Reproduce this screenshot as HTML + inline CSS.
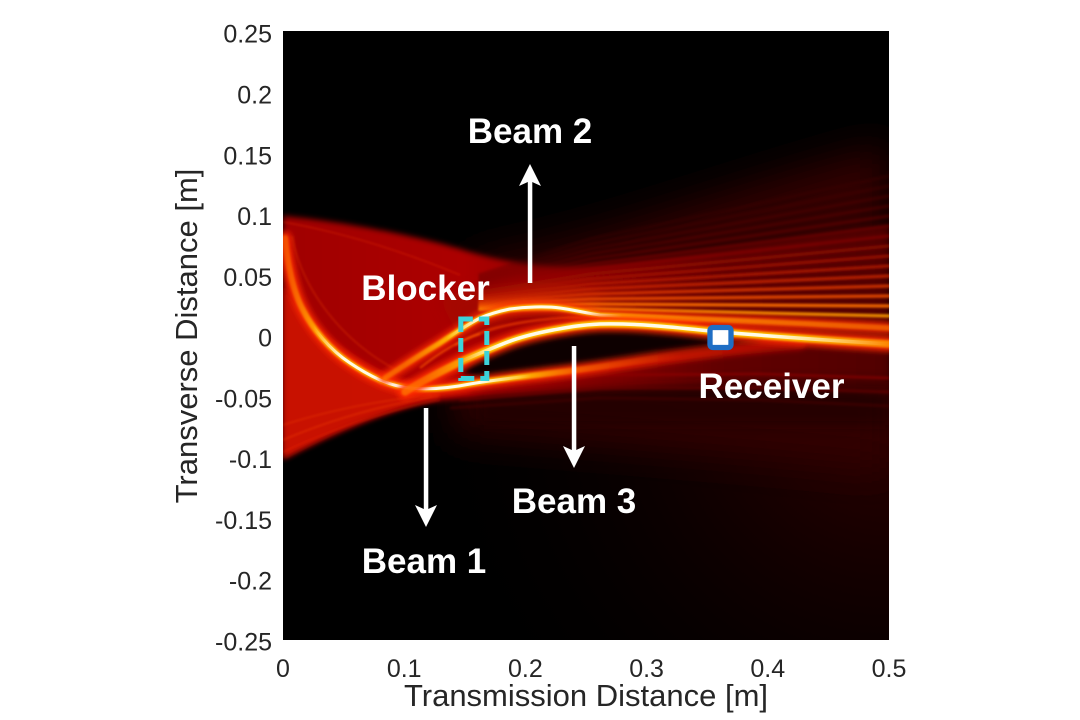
<!DOCTYPE html>
<html><head><meta charset="utf-8"><style>
html,body{margin:0;padding:0;background:#fff;}
svg{display:block;}
text{font-family:"Liberation Sans",Arial,sans-serif;}
</style></head><body>
<svg width="1080" height="720" viewBox="0 0 1080 720" xmlns="http://www.w3.org/2000/svg">
<defs>
<clipPath id="pc"><rect x="283" y="31" width="606" height="609"/></clipPath>
<filter id="bl1" filterUnits="userSpaceOnUse" x="0" y="0" width="1080" height="720"><feGaussianBlur stdDeviation="1"/></filter>
<filter id="bl2" filterUnits="userSpaceOnUse" x="0" y="0" width="1080" height="720"><feGaussianBlur stdDeviation="2"/></filter>
<filter id="bl3" filterUnits="userSpaceOnUse" x="0" y="0" width="1080" height="720"><feGaussianBlur stdDeviation="3"/></filter>
<filter id="bl6" filterUnits="userSpaceOnUse" x="0" y="0" width="1080" height="720"><feGaussianBlur stdDeviation="6"/></filter>
<filter id="bl20" filterUnits="userSpaceOnUse" x="0" y="0" width="1080" height="720"><feGaussianBlur stdDeviation="20"/></filter>
<linearGradient id="gBase" gradientUnits="userSpaceOnUse" x1="283" y1="0" x2="889" y2="0">
<stop offset="0" stop-color="#a00000"/><stop offset="0.3" stop-color="#ac0400"/><stop offset="0.5" stop-color="#880000"/><stop offset="0.72" stop-color="#620000"/><stop offset="1" stop-color="#500000"/>
</linearGradient>
<radialGradient id="gBR" gradientUnits="userSpaceOnUse" cx="889" cy="400" r="480">
<stop offset="0" stop-color="#300000" stop-opacity="1"/><stop offset="1" stop-color="#000000" stop-opacity="0"/>
</radialGradient>
<linearGradient id="aCore" gradientUnits="userSpaceOnUse" x1="283" y1="0" x2="889" y2="0">
<stop offset="0" stop-color="#fffbe8" stop-opacity="0"/><stop offset="0.05" stop-color="#fffbe8" stop-opacity="0"/><stop offset="0.1" stop-color="#fffbe8" stop-opacity="1"/><stop offset="0.325" stop-color="#fffbe8" stop-opacity="1"/><stop offset="0.41" stop-color="#fffbe8" stop-opacity="0"/><stop offset="1" stop-color="#fffbe8" stop-opacity="0"/>
</linearGradient>
<linearGradient id="aYel" gradientUnits="userSpaceOnUse" x1="283" y1="0" x2="889" y2="0">
<stop offset="0" stop-color="#ff8000" stop-opacity="0.4"/><stop offset="0.06" stop-color="#ffb000" stop-opacity="1"/><stop offset="0.39" stop-color="#ffc000" stop-opacity="1"/><stop offset="0.49" stop-color="#ff8000" stop-opacity="0.55"/><stop offset="0.66" stop-color="#ff6000" stop-opacity="0"/><stop offset="1" stop-color="#ff6000" stop-opacity="0"/>
</linearGradient>
<linearGradient id="aRed" gradientUnits="userSpaceOnUse" x1="283" y1="0" x2="889" y2="0">
<stop offset="0" stop-color="#ff2a00" stop-opacity="0.85"/><stop offset="0.45" stop-color="#ff2a00" stop-opacity="0.85"/><stop offset="0.85" stop-color="#e01000" stop-opacity="0.55"/><stop offset="1" stop-color="#e01000" stop-opacity="0.35"/>
</linearGradient>
<linearGradient id="bCore" gradientUnits="userSpaceOnUse" x1="283" y1="0" x2="889" y2="0">
<stop offset="0" stop-color="#fffbe8" stop-opacity="0"/><stop offset="0.29" stop-color="#fffbe8" stop-opacity="0"/><stop offset="0.36" stop-color="#fffbe8" stop-opacity="1"/><stop offset="0.80" stop-color="#fffbe8" stop-opacity="1"/><stop offset="0.95" stop-color="#fffbe8" stop-opacity="0.25"/><stop offset="1" stop-color="#fffbe8" stop-opacity="0"/>
</linearGradient>
<linearGradient id="bYel" gradientUnits="userSpaceOnUse" x1="283" y1="0" x2="889" y2="0">
<stop offset="0" stop-color="#ffa000" stop-opacity="0.4"/><stop offset="0.23" stop-color="#ffa000" stop-opacity="0.5"/><stop offset="0.33" stop-color="#ffc800" stop-opacity="1"/><stop offset="0.85" stop-color="#ffc000" stop-opacity="1"/><stop offset="1" stop-color="#ff9000" stop-opacity="0.9"/>
</linearGradient>
<linearGradient id="cCore" gradientUnits="userSpaceOnUse" x1="283" y1="0" x2="889" y2="0">
<stop offset="0" stop-color="#fffbe8" stop-opacity="0"/><stop offset="0.27" stop-color="#fffbe8" stop-opacity="0"/><stop offset="0.325" stop-color="#fffbe8" stop-opacity="1"/><stop offset="0.50" stop-color="#fffbe8" stop-opacity="1"/><stop offset="0.56" stop-color="#fffbe8" stop-opacity="0"/><stop offset="1" stop-color="#fffbe8" stop-opacity="0"/>
</linearGradient>
<linearGradient id="cYel" gradientUnits="userSpaceOnUse" x1="283" y1="0" x2="889" y2="0">
<stop offset="0" stop-color="#ff9000" stop-opacity="0.5"/><stop offset="0.2" stop-color="#ff9000" stop-opacity="0.6"/><stop offset="0.28" stop-color="#ffc000" stop-opacity="1"/><stop offset="0.52" stop-color="#ffc000" stop-opacity="1"/><stop offset="0.68" stop-color="#ff9a00" stop-opacity="0.75"/><stop offset="1" stop-color="#ff8000" stop-opacity="0.55"/>
</linearGradient>
</defs>

<g clip-path="url(#pc)">
<rect x="283" y="31" width="606" height="609" fill="#000"/>
<rect x="420" y="330" width="469" height="310" fill="url(#gBR)"/>
<path d="M470,262 C600,240 750,180 889,145 L889,470 C750,455 600,445 450,432 Z" fill="#300000" filter="url(#bl20)"/>
<path d="M283,216 C340,221 420,236 470,252 C520,266 560,270 610,264 C700,254 800,238 889,226 L889,395 C800,390 700,386 600,390 C520,394 460,398 430,402 C390,410 340,430 283,459 Z" fill="url(#gBase)" filter="url(#bl3)"/>
<path d="M283,285 C315,335 365,372 430,391 L440,398 C390,408 340,428 283,459 Z" fill="#d21400" opacity="0.8" filter="url(#bl3)"/>
<path d="M440,300 C480,280 540,276 600,290 L600,320 L520,318 L460,340 Z" fill="#a00800" opacity="0.6" filter="url(#bl6)"/>
<path d="M462,372 C475,360 490,350 520,337 C545,330 570,326 600,325 C640,324 690,328 760,336 L760,342 C700,350 660,358 600,364 C560,370 520,374 480,380 Z" fill="#080000" filter="url(#bl3)"/>
<path d="M480,398 C560,392 640,386 760,380 L889,382 L889,425 C760,425 600,425 480,425 Z" fill="#150000" opacity="0.45" filter="url(#bl6)"/>

<g fill="none" stroke-linecap="round" stroke-linejoin="round" filter="url(#bl1)">
<path d="M480,309.5 L590,309 L740,312.5 L889,316" stroke="#ffa000" stroke-width="3.5" opacity="0.85"/>
<path d="M480,307 L590,304 L740,305 L889,306" stroke="#ff7000" stroke-width="3.5" opacity="0.85"/>
<path d="M480,304.5 L590,299 L740,297.5 L889,296" stroke="#f05000" stroke-width="3.5" opacity="0.8"/>
<path d="M480,302 L590,294 L740,290 L889,286" stroke="#e03800" stroke-width="3.5" opacity="0.75"/>
<path d="M480,299.5 L590,289 L740,282.5 L889,276" stroke="#d02800" stroke-width="3.5" opacity="0.7"/>
<path d="M480,297 L590,284 L740,275 L889,266" stroke="#c02000" stroke-width="3.5" opacity="0.65"/>
<path d="M480,294.5 L590,279 L740,267.5 L889,256" stroke="#b01800" stroke-width="3.5" opacity="0.6"/>
<path d="M480,292 L590,274 L740,260 L889,246" stroke="#a01000" stroke-width="3.5" opacity="0.55"/>
<path d="M480,289.5 L590,269 L740,252.5 L889,236" stroke="#900800" stroke-width="3.5" opacity="0.5"/>
<path d="M480,287 L590,264 L740,245 L889,226" stroke="#800000" stroke-width="3.5" opacity="0.45"/>
<path d="M480,284.5 L590,259 L740,237.5 L889,216" stroke="#700000" stroke-width="3.5" opacity="0.4"/>
<path d="M480,282 L590,254 L740,230 L889,206" stroke="#600000" stroke-width="3.5" opacity="0.38"/>
<path d="M480,279.5 L590,249 L740,222.5 L889,196" stroke="#580000" stroke-width="3.5" opacity="0.35"/>
<path d="M480,277 L590,244 L740,215 L889,186" stroke="#500000" stroke-width="3.5" opacity="0.3"/>
<path d="M480,274.5 L590,239 L740,207.5 L889,176" stroke="#480000" stroke-width="3.5" opacity="0.25"/>
</g>
<g fill="none" filter="url(#bl1)">
<path d="M470,393 L600,375 L760,374 L889,378" stroke="#900000" stroke-width="3" opacity="0.6"/>
<path d="M460,400 L600,388 L760,388 L889,392" stroke="#700000" stroke-width="3" opacity="0.5"/>
<path d="M450,408 L600,398 L760,400 L889,406" stroke="#500000" stroke-width="3" opacity="0.45"/>
</g>
<g fill="none" filter="url(#bl1)">
<path d="M455,345 C480,330 510,322 560,318 C600,316 640,318 700,322" stroke="#e83800" stroke-width="2.5" opacity="0.8"/>
<path d="M420,368 C440,352 460,340 480,334" stroke="#ff6000" stroke-width="2" opacity="0.7"/>
</g>
<g fill="none" stroke-width="1.3" filter="url(#bl1)">
<path d="M292,236 C302,290 342,342 400,372" stroke="#ff5000" opacity="0.35"/>
<path d="M283,222 C340,232 400,250 460,275" stroke="#ff4000" opacity="0.3"/>
<path d="M283,440 C330,420 380,405 440,396" stroke="#ff5000" opacity="0.4"/>
<path d="M283,425 C330,410 380,400 440,394" stroke="#ff5000" opacity="0.35"/>
<path d="M283,452 C330,430 380,412 440,400" stroke="#ff3000" opacity="0.35"/>
</g>

<g fill="none" stroke-linecap="round">
<path d="M285,238 C287,262 293,292 303,310 C312,328 330,350 350,363 C368,375 388,386 410,388 C430,390 450,388 470,384 C500,379 530,376 553,373 C590,369 630,362 667,357 C710,351 760,346 800,343" stroke="url(#aRed)" stroke-width="13" filter="url(#bl3)"/>
<path d="M285,238 C287,262 293,292 303,310 C312,328 330,350 350,363 C368,375 388,386 410,388 C430,390 450,388 470,384 C500,379 530,376 553,373 C590,369 630,362 667,357 C710,351 760,346 800,343" stroke="url(#aYel)" stroke-width="6" filter="url(#bl1)"/>
<path d="M285,238 C287,262 293,292 303,310 C312,328 330,350 350,363 C368,375 388,386 410,388 C430,390 450,388 470,384 C500,379 530,376 553,373" stroke="url(#aCore)" stroke-width="3"/>
</g>
<g fill="none" stroke-linecap="round">
<path d="M385,378 C400,368 420,355 440,343 C455,333 465,326 480,318 C492,313 500,311 510,309 C525,307 545,306 560,308 C575,310 585,313 600,315 C640,317 680,318 720,320 C800,323 850,326 889,328" stroke="#ff2a00" stroke-opacity="0.8" stroke-width="12" filter="url(#bl3)"/>
<path d="M385,378 C400,368 420,355 440,343 C455,333 465,326 480,318 C492,313 500,311 510,309 C525,307 545,306 560,308 C575,310 585,313 600,315 C640,317 680,318 720,320 C800,323 850,326 889,328" stroke="url(#cYel)" stroke-width="5.5" filter="url(#bl1)"/>
<path d="M440,343 C455,333 465,326 480,318 C492,313 500,311 510,309 C525,307 545,306 560,308 C575,310 585,313 600,315 C620,316 630,316 640,317" stroke="url(#cCore)" stroke-width="3"/>
</g>
<g fill="none" stroke-linecap="round">
<path d="M405,392 C420,382 440,372 460,362 C475,355 490,349 505,343 C520,337 537,333 553,330 C570,327 580,325 600,324 C640,323 680,328 720,332 C780,337 840,341 889,344" stroke="#ff2a00" stroke-opacity="0.9" stroke-width="15" filter="url(#bl3)"/>
<path d="M405,392 C420,382 440,372 460,362 C475,355 490,349 505,343 C520,337 537,333 553,330 C570,327 580,325 600,324 C640,323 680,328 720,332 C780,337 840,341 889,344" stroke="url(#bYel)" stroke-width="7.5" filter="url(#bl1)"/>
<path d="M405,392 C420,382 440,372 460,362 C475,355 490,349 505,343 C520,337 537,333 553,330 C570,327 580,325 600,324 C640,323 680,328 720,332 C780,337 840,341 889,344" stroke="url(#bCore)" stroke-width="3.5"/>
</g>

<rect x="460.8" y="319" width="26" height="59.5" fill="none" stroke="#3cd3da" stroke-width="5" stroke-dasharray="14 6" stroke-dashoffset="2"/>
<rect x="710" y="327.5" width="21" height="20" rx="3" fill="#ffffff" stroke="#1f6ec4" stroke-width="5.3"/>

<g fill="#ffffff" stroke="none">
<rect x="527.8" y="180" width="4.5" height="103"/>
<polygon points="530,164 541,186 530,181 519,186"/>
<rect x="423.8" y="408" width="4.5" height="104"/>
<polygon points="426,527 437,505 426,510 415,505"/>
<rect x="571.8" y="346" width="4.5" height="107"/>
<polygon points="574,468 585,446 574,451 563,446"/>
</g>

<g fill="#ffffff" font-weight="bold" font-size="35" text-anchor="middle">
<text x="530" y="143">Beam 2</text>
<text x="425.5" y="300">Blocker</text>
<text x="771.5" y="398">Receiver</text>
<text x="574" y="513">Beam 3</text>
<text x="424" y="573">Beam 1</text>
</g>
</g>

<g fill="#262626" font-size="25" text-anchor="end">
<text x="272" y="42.7">0.25</text>
<text x="272" y="103.5">0.2</text>
<text x="272" y="164.3">0.15</text>
<text x="272" y="225.0">0.1</text>
<text x="272" y="285.8">0.05</text>
<text x="272" y="346.6">0</text>
<text x="272" y="407.4">-0.05</text>
<text x="272" y="468.2">-0.1</text>
<text x="272" y="529.0">-0.15</text>
<text x="272" y="589.7">-0.2</text>
<text x="272" y="650.5">-0.25</text>
</g>
<g fill="#262626" font-size="25" text-anchor="middle">
<text x="283" y="677">0</text>
<text x="404.2" y="677">0.1</text>
<text x="525.4" y="677">0.2</text>
<text x="646.6" y="677">0.3</text>
<text x="767.8" y="677">0.4</text>
<text x="889" y="677">0.5</text>
</g>
<text x="586" y="706" fill="#262626" font-size="31" text-anchor="middle">Transmission Distance [m]</text>
<text transform="translate(197,336) rotate(-90)" x="0" y="0" fill="#262626" font-size="31" text-anchor="middle">Transverse Distance [m]</text>
</svg>
</body></html>
